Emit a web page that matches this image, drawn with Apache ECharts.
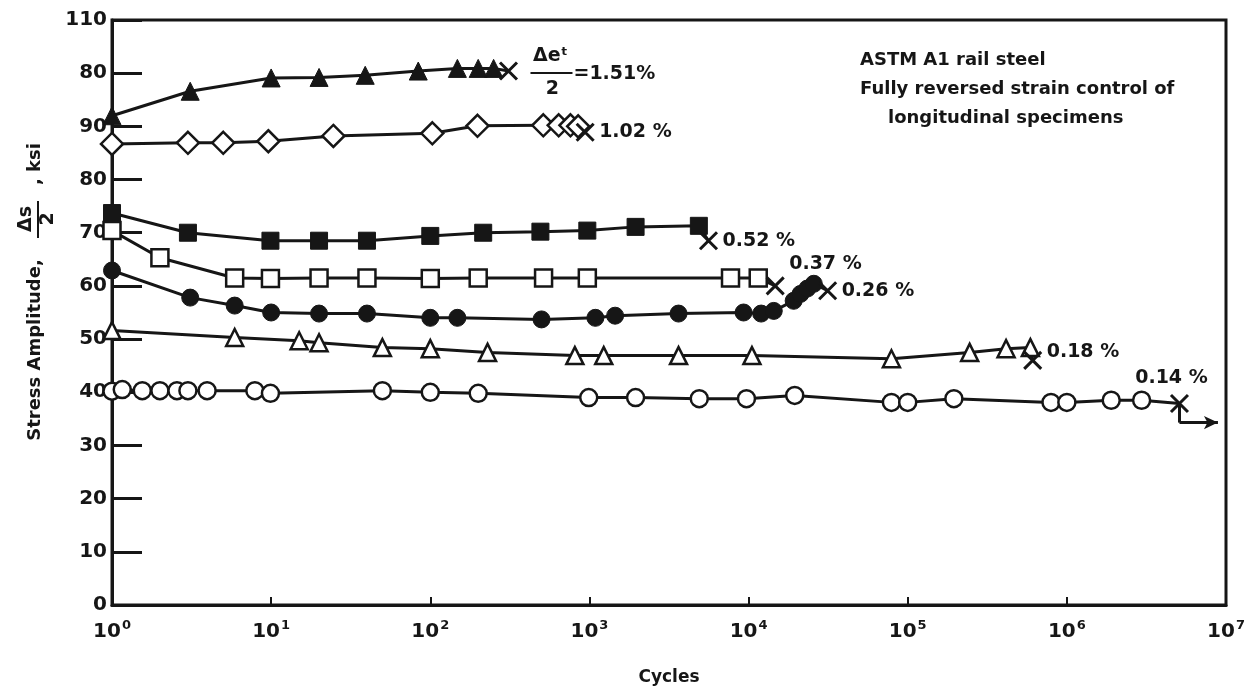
<!DOCTYPE html>
<html><head><meta charset="utf-8">
<script src="https://cdn.jsdelivr.net/npm/echarts@6/dist/echarts.min.js"></script>
<style>html,body{margin:0;padding:0;background:#fff}#c{width:1251px;height:694px}</style>
</head><body><div id="c"></div><script>
// ---- tick labels ----
const xTickExponents = ['0','1','2','3','4','5','6','7'];
const yTickValues = [0,10,20,30,40,50,60,70,80,90,100,110];
const yTickLabels = ['0','10','20','30','40','50','60','70','80','90','80','110'];

// ---- series data: [cycles, stress amplitude ksi] ----
const s151 = [[1,92],[3.1,96.6],[10,99.1],[20,99.2],[39,99.6],[84,100.4],[148,100.9],[200,100.9],[250,100.9]];
const end151 = [310,100.4];
const s102 = [[1,86.7],[3,86.9],[5,86.9],[9.6,87.2],[24.6,88.2],[103,88.7],[198,90.1],[513,90.2],[641,90.2],[760,90.2],[850,90]];
const end102 = [940,88.9];
const s052 = [[1,73.7],[3,70],[9.9,68.5],[20,68.5],[40,68.5],[100,69.4],[215,70],[492,70.2],[970,70.4],[1950,71.1],[4870,71.3]];
const end052 = [5600,68.5];
const s037 = [[1,70.4],[2,65.3],[5.9,61.5],[9.9,61.4],[20,61.5],[40,61.5],[100,61.4],[200,61.5],[515,61.5],[970,61.5],[7700,61.5],[11500,61.5]];
const end037 = [14700,60.0];
const s026 = [[1,62.9],[3.1,57.8],[5.9,56.3],[10,55],[20,54.8],[40,54.8],[100,54],[148,54],[500,53.7],[1090,54],[1450,54.4],[3630,54.8],[9300,55],[12000,54.8],[14400,55.3],[19200,57.2],[21200,58.5],[23400,59.5],[25700,60.4]];
const end026 = [31400,59.1];
const s018 = [[1,51.6],[5.9,50.3],[15,49.7],[20,49.3],[50,48.4],[100,48.2],[229,47.5],[810,46.9],[1230,46.9],[3630,46.9],[10500,46.9],[79000,46.3],[245000,47.5],[415000,48.2],[590000,48.4]];
const end018 = [610000,46.0];
const s014 = [[1,40.2],[1.16,40.5],[1.55,40.3],[2,40.3],[2.56,40.3],[3,40.3],[3.96,40.3],[7.9,40.3],[9.9,39.8],[50,40.3],[100,40],[200,39.8],[990,39],[1950,39],[4900,38.8],[9700,38.8],[19500,39.4],[79000,38.1],[100000,38.1],[195000,38.8],[795000,38.1],[1000000,38.1],[1900000,38.5],[2950000,38.5]];
const end014 = [5100000,37.9];
const runout014 = [[5100000,37.9],[5100000,34.3],[8900000,34.3]];

const endLabels = {s102:'1.02 %', s052:'0.52 %', s037:'0.37 %', s026:'0.26 %', s018:'0.18 %', s014:'0.14 %'};

const INK = '#161616';
const FONT = '"DejaVu Sans", sans-serif';
const X_PATH = 'path://M0,0L10,10M10,0L0,10';

function endItem(pt, text, labelPos, labelOffset) {
  return {
    value: pt, symbol: X_PATH, symbolSize: 17,
    itemStyle: {color: 'none', borderColor: INK, borderWidth: 3},
    label: text ? {show: true, formatter: text, position: labelPos || 'right', offset: labelOffset || [0,0],
      color: INK, fontFamily: FONT, fontWeight: 'bold', fontSize: 19, distance: 3} : {show:false}
  };
}

function mkSeries(name, pts, end, sym, filled, size, labelText, labelPos, labelOffset) {
  return {
    name, type: 'line', z: 3,
    data: pts.map(p => ({value: p})).concat([endItem(end, labelText, labelPos, labelOffset)]),
    symbol: sym, symbolSize: size, showAllSymbol: true,
    lineStyle: {color: INK, width: 3},
    itemStyle: {color: filled ? INK : '#fff', borderColor: INK, borderWidth: filled ? 1 : 2.5},
    label: {show: false},
    emphasis: {disabled: true}
  };
}

const series = [
  mkSeries('1.51', s151, end151, 'triangle', true, 18, null),
  mkSeries('1.02', s102, end102, 'diamond', false, 22, endLabels.s102, 'right'),
  mkSeries('0.52', s052, end052, 'rect', true, 17, endLabels.s052, 'right'),
  mkSeries('0.37', s037, end037, 'rect', false, 17, endLabels.s037, 'right', [0,-22]),
  mkSeries('0.26', s026, end026, 'circle', true, 17, endLabels.s026, 'right'),
  mkSeries('0.18', s018, end018, 'triangle', false, 17, endLabels.s018, 'right', [0,-8]),
  mkSeries('0.14', s014, end014, 'circle', false, 17, endLabels.s014, 'top', [-8,-2])
];
series[6].markLine = {
  silent: true, animation: false,
  symbol: ['none','arrow'], symbolSize: [10,14],
  lineStyle: {color: INK, width: 3, type: 'solid'},
  label: {show: false},
  data: [
    [{coord: runout014[0], symbol: 'none'}, {coord: runout014[1], symbol: 'none'}],
    [{coord: runout014[1], symbol: 'none'}, {coord: runout014[2], symbol: 'arrow'}]
  ]
};

const chart = echarts.init(document.getElementById('c'), null, {renderer: 'canvas'});
chart.setOption({
  animation: false,
  backgroundColor: '#fff',
  grid: {left: 112, right: 25, top: 20, bottom: 89, show: true, borderColor: INK, borderWidth: 3},
  xAxis: {
    type: 'log', logBase: 10, min: 1, max: 1e7,
    name: 'Cycles', nameLocation: 'middle', nameGap: 64,
    nameTextStyle: {color: INK, fontFamily: FONT, fontWeight: 'bold', fontSize: 17},
    axisLine: {show: true, lineStyle: {color: INK, width: 3}},
    axisTick: {show: true, inside: true, length: 8, lineStyle: {color: INK, width: 2}},
    minorTick: {show: false},
    splitLine: {show: false},
    axisLabel: {
      margin: 14, color: INK,
      formatter: function (v) {
        const e = Math.round(Math.log10(v));
        return '{b|10}{s|' + xTickExponents[e] + '}';
      },
      rich: {
        b: {fontFamily: FONT, fontWeight: 'bold', fontSize: 20, color: INK},
        s: {fontFamily: FONT, fontWeight: 'bold', fontSize: 13, color: INK, padding: [0,0,12,1]}
      }
    }
  },
  yAxis: {
    type: 'value', min: 0, max: 110, interval: 10,
    axisLine: {show: true, lineStyle: {color: INK, width: 3}},
    axisTick: {show: true, inside: true, length: 30, lineStyle: {color: INK, width: 3}},
    splitLine: {show: false},
    axisLabel: {
      margin: 5, color: INK, fontFamily: FONT, fontWeight: 'bold', fontSize: 20,
      formatter: function (v) { return yTickLabels[yTickValues.indexOf(Math.round(v))]; }
    }
  },
  series: series
});

// ---- annotations (text) ----
const p = chart.convertToPixel({gridIndex: 0}, end151);
const tf = (s) => 'bold ' + s + 'px ' + FONT;
chart.setOption({
  graphic: [
    // strain amplitude fraction label for 1.51 %
    {type: 'text', x: p[0] + 42, y: p[1] - 15, style: {text: 'Δeᵗ', font: tf(19), fill: INK, textAlign: 'center', textVerticalAlign: 'middle'}},
    {type: 'line', shape: {x1: p[0] + 22, y1: p[1] + 2, x2: p[0] + 64, y2: p[1] + 2}, style: {stroke: INK, lineWidth: 2}},
    {type: 'text', x: p[0] + 44, y: p[1] + 18, style: {text: '2', font: tf(19), fill: INK, textAlign: 'center', textVerticalAlign: 'middle'}},
    {type: 'text', x: p[0] + 65, y: p[1] + 3, style: {text: '=1.51%', font: tf(19), fill: INK, textAlign: 'left', textVerticalAlign: 'middle'}},
    // title block
    {type: 'text', x: 860, y: 60, style: {text: 'ASTM A1 rail steel', font: tf(18), fill: INK, textVerticalAlign: 'middle'}},
    {type: 'text', x: 860, y: 89, style: {text: 'Fully reversed strain control of', font: tf(18), fill: INK, textVerticalAlign: 'middle'}},
    {type: 'text', x: 888, y: 118, style: {text: 'longitudinal specimens', font: tf(18), fill: INK, textVerticalAlign: 'middle'}},
    // y axis name (rotated)
    {type: 'text', x: 35, y: 350, rotation: Math.PI / 2, style: {text: 'Stress Amplitude,', font: tf(18), fill: INK, textAlign: 'center', textVerticalAlign: 'middle'}},
    {type: 'text', x: 26, y: 219, rotation: Math.PI / 2, style: {text: 'Δs', font: tf(19), fill: INK, textAlign: 'center', textVerticalAlign: 'middle'}},
    {type: 'line', shape: {x1: 38, y1: 201, x2: 38, y2: 238}, style: {stroke: INK, lineWidth: 2}},
    {type: 'text', x: 48, y: 219, rotation: Math.PI / 2, style: {text: '2', font: tf(19), fill: INK, textAlign: 'center', textVerticalAlign: 'middle'}},
    {type: 'text', x: 35, y: 164, rotation: Math.PI / 2, style: {text: ', ksi', font: tf(18), fill: INK, textAlign: 'center', textVerticalAlign: 'middle'}}
  ]
});
</script></body></html>
